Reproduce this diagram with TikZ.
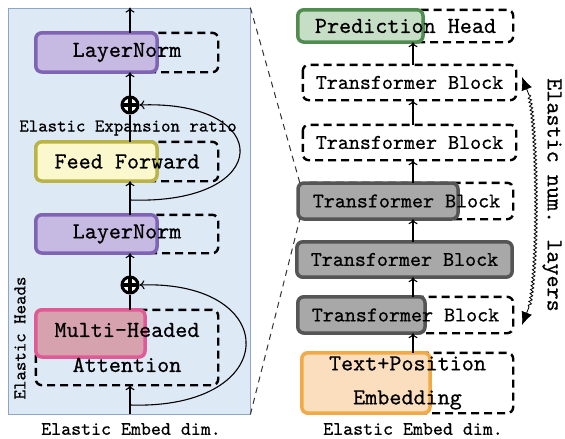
\documentclass[tikz,border=0pt]{standalone}
\usepackage{fontspec}
\newfontfamily\mytt{lmmono10-regular.otf}[FakeBold=0.6]
\usetikzlibrary{arrows.meta,decorations.pathmorphing,calc}
\pgfdeclarelayer{bg}\pgfdeclarelayer{mid}\pgfsetlayers{bg,mid,main}
\definecolor{panelfill}{RGB}{222,233,246}
\definecolor{paneldraw}{RGB}{140,165,200}
\definecolor{lnd}{RGB}{128,100,180}\definecolor{lnf}{RGB}{198,186,226}
\definecolor{ffd}{RGB}{186,180,70}\definecolor{fff}{RGB}{252,248,205}
\definecolor{mhd}{RGB}{224,90,150}\definecolor{mhf}{RGB}{214,162,174}
\definecolor{phd}{RGB}{80,140,80}\definecolor{phf}{RGB}{198,222,198}
\definecolor{tbd}{RGB}{85,85,85}\definecolor{tbf}{RGB}{168,168,168}
\definecolor{ted}{RGB}{242,170,70}\definecolor{tef}{RGB}{250,222,190}
\tikzset{
  x=1pt,y=-1pt,
  tbox/.style={inner sep=0pt,draw=none,font=\mytt\fontsize{23}{35}\selectfont,align=center},
  tbsm/.style={inner sep=0pt,draw=none,font=\mytt\fontsize{21}{30}\selectfont},
  dbox/.style={draw=black,line width=2.4pt,dash pattern=on 8pt off 5pt,rounded corners=6pt},
  sbox/.style={line width=3.5pt,rounded corners=6pt},
  arr/.style={line width=1.1pt,-{To[length=5pt,width=9pt]}},
  ln/.style={line width=1.1pt},
  pluss/.style={circle,draw=black,line width=3pt,fill=white,minimum size=16pt,inner sep=0pt,
     path picture={\draw[line width=3.4pt] (path picture bounding box.north) -- (path picture bounding box.south)
        (path picture bounding box.west) -- (path picture bounding box.east);}},
  lab/.style={font=\mytt\fontsize{18}{20}\selectfont,inner sep=0pt},
  zoomln/.style={line width=1pt,dash pattern=on 6pt off 5pt,draw=black!80},
  tipst/.style={line width=0.8pt,-{Latex[length=13pt,width=11pt]}},
}
\begin{document}
\begin{tikzpicture}
\useasboundingbox (0,0) rectangle (565,439);
% panel
\node[draw=paneldraw,line width=0.8pt,minimum width=242,minimum height=406,inner sep=0pt] (panel) at (129,211) {};
\begin{pgfonlayer}{bg}
\fill[panelfill] (panel.north west) rectangle (panel.south east);
\end{pgfonlayer}
% left stack nodes
\node[tbox,minimum width=182,minimum height=39] (ln1) at (127,52.5) {LayerNorm};
\node[tbox,minimum width=182,minimum height=39] (ff) at (127,161.5) {Feed Forward};
\node[tbox,minimum width=182,minimum height=38] (ln2) at (127,234) {LayerNorm};
\node[tbox,minimum width=182,minimum height=75] (mha) at (127,347.5) {Multi-Headed\\Attention};
\node[pluss] (p1) at (130,105) {};
\node[pluss] (p2) at (130,285) {};
\begin{pgfonlayer}{mid}
\draw[dbox] (ln1.north west) rectangle (ln1.south east);
\draw[sbox,draw=lnd,fill=lnf] (ln1.north west) rectangle (157,72);
\draw[dbox] (ff.north west) rectangle (ff.south east);
\draw[sbox,draw=ffd,fill=fff] (ff.north west) rectangle (157,181);
\draw[dbox] (ln2.north west) rectangle (ln2.south east);
\draw[sbox,draw=lnd,fill=lnf] (ln2.north west) rectangle (157,253);
\draw[dbox] (mha.north west) rectangle (mha.south east);
\draw[sbox,draw=mhd,fill=mhf] (mha.north west) rectangle (145,357);
\end{pgfonlayer}
% left connectors
\coordinate (r1) at (130,200);
\coordinate (r2) at (130,405);
\draw[arr] (ln1.north -| p1) -- (p1 |- panel.north);
\draw[arr] (p1) -- (p1 |- ln1.south);
\draw[ln] (ff.north -| p1) -- (p1.south);
\draw[arr] (r1 |- ln2.north) -- (r1 |- ff.south);
\draw[arr] (r1) .. controls (275,205) and (275,100) .. (p1.east);
\draw[arr] (p2) -- (p2 |- ln2.south);
\draw[ln] (mha.north -| p2) -- (p2.south);
\draw[arr] (p2 |- panel.south) -- (p2 |- mha.south);
\draw[arr] (r2) .. controls (283,410) and (283,280) .. (p2.east);
\node[lab] (eer) at (128,128) {Elastic Expansion ratio};
\node[lab,rotate=90] (eh) at (20,338) {Elastic Heads};
\node[lab,font=\mytt\fontsize{19}{21}\selectfont] (ed1) at (131,429) {Elastic Embed dim.};
% right stack
\node[tbox,minimum width=215,minimum height=32] (ph) at (405.5,26) {Prediction Head};
\node[tbsm,minimum width=213,minimum height=35] (tb1) at (409.5,82.5) {Transformer Block};
\node[tbsm,minimum width=213,minimum height=35] (tb2) at (409.5,142.5) {Transformer Block};
\node[tbsm,minimum width=213,minimum height=36] (tb3) at (406.5,201) {Transformer Block};
\node[tbsm,minimum width=215,minimum height=35] (tb4) at (404.5,259.5) {Transformer Block};
\node[tbsm,minimum width=215,minimum height=36] (tb5) at (405.5,315) {Transformer Block};
\node[tbox,minimum width=211,minimum height=60,font=\mytt\fontsize{23}{34}\selectfont] (tpe) at (407.5,383) {Text+Position\\Embedding};
\begin{pgfonlayer}{mid}
\draw[dbox] (ph.north west) rectangle (ph.south east);
\draw[sbox,draw=phd,fill=phf] (ph.north west) rectangle (423,42);
\draw[dbox] (tb1.north west) rectangle (tb1.south east);
\draw[dbox] (tb2.north west) rectangle (tb2.south east);
\draw[dbox] (tb3.north west) rectangle (tb3.south east);
\draw[sbox,draw=tbd,fill=tbf] (298,183) rectangle (458,219);
\draw[sbox,draw=tbd,fill=tbf] (tb4.north west) rectangle (tb4.south east);
\draw[dbox] (tb5.north west) rectangle (tb5.south east);
\draw[sbox,draw=tbd,fill=tbf] (tb5.north west) rectangle (425,333);
\draw[dbox] (tpe.north west) rectangle (tpe.south east);
\draw[sbox,draw=ted,fill=tef] (tpe.north west) rectangle (430,413);
\end{pgfonlayer}
\coordinate (ax) at (413,0);
\draw[arr] (tb1.north -| ax) -- (ax |- ph.south);
\draw[arr] (tb2.north -| ax) -- (ax |- tb1.south);
\draw[arr] (tb3.north -| ax) -- (ax |- tb2.south);
\draw[arr] (tb4.north -| ax) -- (ax |- tb3.south);
\draw[arr] (tb5.north -| ax) -- (ax |- tb4.south);
\draw[arr] (tpe.north -| ax) -- (ax |- tb5.south);
\node[lab,font=\mytt\fontsize{19}{21}\selectfont] (ed2) at (413,429) {Elastic Embed dim.};
% zoom lines
\draw[zoomln] (panel.north east) -- (tb3.north west);
\draw[zoomln] (panel.south east) -- (tb3.south west);
% wavy arrow
\coordinate (wt) at (522,77);
\coordinate (wt2) at (529,95);
\coordinate (wb) at (522,325);
\coordinate (wb2) at (529,307);
\draw[line width=0.8pt,decorate,decoration={snake,amplitude=1.5pt,segment length=4pt}]
  (wt2) .. controls (537,130) and (539,260) .. (wb2);
\draw[tipst] (wt2) -- (wt);
\draw[tipst] (wb2) -- (wb);
\node[lab,rotate=-90,font=\mytt\fontsize{23}{25}\selectfont] (enl) at (552,195) {Elastic num. layers};
\end{tikzpicture}
\end{document}
